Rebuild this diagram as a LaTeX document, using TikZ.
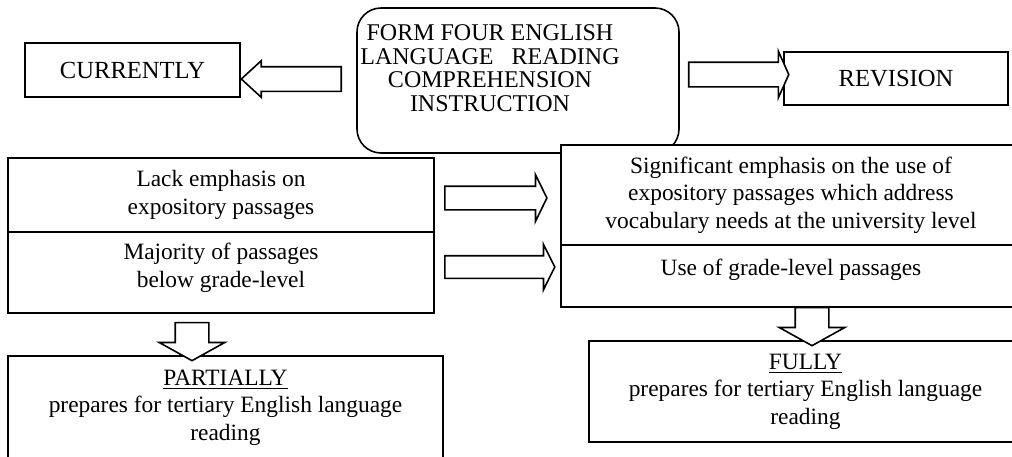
\documentclass[tikz,border=0pt]{standalone}
\usepackage{fontspec}
\setmainfont{Liberation Serif}
\usetikzlibrary{positioning, shapes.arrows}

\begin{document}
\begin{tikzpicture}[
  x=0.5pt, y=-0.5pt,
  node distance=0pt,
  box/.style={draw, fill=white, line width=0.8pt, inner sep=0pt, outer sep=0pt,
              align=center, font=\fontsize{11.7}{13.7}\selectfont},
  hub/.style={box, rounded corners=12pt},
  celltext/.style={inner sep=0pt, align=center, font=\fontsize{11.7}{13.7}\selectfont},
  fatarrow/.style={single arrow, draw, fill=white, line width=0.8pt,
                   inner sep=0pt, outer sep=0pt}
]
  \useasboundingbox (0,0) rectangle (1012,456);

  % top row
  \node[hub, minimum width=161pt, minimum height=72.5pt] (core) at (518,80.5) {};
  \node[celltext, font=\fontsize{12}{11.8}\selectfont] (coretext) at (490,68)
    {FORM FOUR ENGLISH\\LANGUAGE\ \ \ READING\\COMPREHENSION\\INSTRUCTION};
  \node[box, font=\fontsize{12.3}{14}\selectfont, minimum width=107.5pt,
        minimum height=27pt] (cur) at (132.5,70) {CURRENTLY};
  \node[box, font=\fontsize{12.3}{14}\selectfont, minimum width=112pt,
        minimum height=26.5pt] (rev) at (896,78.5) {REVISION};

  % left column
  \node[box, minimum width=213pt, minimum height=37pt] (lack) at (221,195)
    {Lack emphasis on\\expository passages};
  \node[box, minimum width=213pt, minimum height=40.5pt, below=of lack] (major) {};
  \node[celltext, anchor=north] (majortext) at ([yshift=-5.5pt]major.north)
    {Majority of passages\\below grade-level};
  \node[box, minimum width=217.5pt, minimum height=51.5pt] (partly) at (225.5,407.5)
    {\underline{PARTIALLY}\\prepares for tertiary English language\\reading};

  % right column
  \node[box, minimum width=230pt, minimum height=50pt] (emph) at (791,195)
    {Significant emphasis on the use of\\expository passages which address\\vocabulary needs at the university level};
  \node[box, minimum width=230pt, minimum height=31pt, below=of emph] (grade) {};
  \node[celltext, anchor=north] (gradetext) at ([yshift=-7pt]grade.north)
    {Use of grade-level passages};
  \node[box, minimum width=216.5pt, minimum height=50.5pt] (fully) at (805.5,391.5)
    {\underline{FULLY}\\prepares for tertiary English language\\reading};

  % block arrows
  \node[fatarrow, shape border rotate=180, minimum height=50pt, inner ysep=5.75pt,
        single arrow head extend=3pt, single arrow tip angle=85] (tocur) at (298,79) {};
  \node[fatarrow, minimum height=50pt, inner ysep=5.75pt,
        single arrow head extend=5.5pt, single arrow tip angle=132] (torev) at (736,74.5) {};
  \node[fatarrow, minimum height=51pt, inner ysep=5.5pt,
        single arrow head extend=5.75pt, single arrow tip angle=128] (shifta) at (493,198) {};
  \node[fatarrow, minimum height=55pt, inner ysep=5.25pt,
        single arrow head extend=5.75pt, single arrow tip angle=127] (shiftb) at (497,267) {};
  \node[fatarrow, shape border rotate=270, minimum height=19pt, inner xsep=8pt,
        single arrow head extend=8pt, single arrow tip angle=122] (downl) at (192,337) {};
  \node[fatarrow, shape border rotate=270, minimum height=19pt, inner xsep=8pt,
        single arrow head extend=8pt, single arrow tip angle=122] (downr) at (812,322) {};
\end{tikzpicture}
\end{document}
